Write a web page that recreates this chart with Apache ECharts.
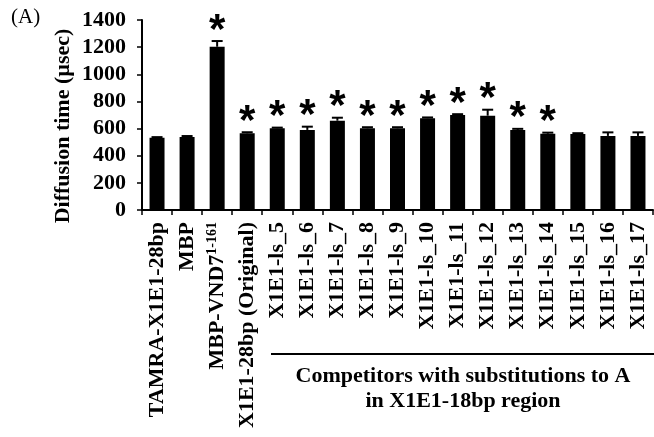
<!DOCTYPE html>
<html>
<head>
<meta charset="utf-8">
<script src="https://cdn.jsdelivr.net/npm/echarts@6/dist/echarts.min.js"></script>
<style>
  html, body { margin: 0; padding: 0; background: #fff; }
  #chart { width: 654px; height: 437px; }
</style>
</head>
<body>
<div id="chart"></div>
<script>
// Competitor constructs along the x axis
const categories = [
  'TAMRA-X1E1-28bp', 'MBP', 'MBP-VND7', 'X1E1-28bp (Original)',
  'X1E1-ls_5', 'X1E1-ls_6', 'X1E1-ls_7', 'X1E1-ls_8', 'X1E1-ls_9',
  'X1E1-ls_10', 'X1E1-ls_11', 'X1E1-ls_12', 'X1E1-ls_13', 'X1E1-ls_14',
  'X1E1-ls_15', 'X1E1-ls_16', 'X1E1-ls_17'
];
// superscript attached to a category label
const superscripts = { 'MBP-VND7': '1-161' };

// mean diffusion time (µsec) and its error
const diffusionTime = [533, 537, 1203, 565, 602, 590, 658, 602, 602, 676, 700, 695, 590, 562, 560, 546, 546];
const errorValues   = [4, 8, 42, 8, 5, 24, 22, 8, 8, 6, 6, 44, 8, 8, 6, 26, 26];
// significance marks (1 = asterisk)
const significant   = [0, 0, 1, 1, 1, 1, 1, 1, 1, 1, 1, 1, 1, 1, 0, 0, 0];

const yTicks = { min: 0, max: 1400, interval: 200 };

const serif = 'Liberation Serif';

const chart = echarts.init(document.getElementById('chart'), null, { renderer: 'canvas' });

const errData = diffusionTime.map((v, i) => [i, v, errorValues[i], significant[i]]);

chart.setOption({
  animation: false,
  grid: { left: 142, right: 1, top: 20, bottom: 227, containLabel: false },
  xAxis: {
    type: 'category',
    data: categories,
    boundaryGap: true,
    axisLine: { lineStyle: { color: '#000', width: 2 } },
    axisTick: { show: true, length: 5, inside: false, lineStyle: { color: '#000', width: 1.5 } },
    axisLabel: {
      interval: 0,
      rotate: 90,
      margin: 12,
      color: '#000',
      fontFamily: serif,
      fontWeight: 'bold',
      fontSize: 22,
      formatter: function (v) {
        const sup = superscripts[v];
        return sup ? '{main|' + v + '}{sup|' + sup + '}' : '{main|' + v + '}';
      },
      rich: {
        main: { fontFamily: serif, fontWeight: 'bold', fontSize: 22, color: '#000', lineHeight: 23 },
        sup: { fontFamily: serif, fontWeight: 'bold', fontSize: 14, color: '#000', verticalAlign: 'top', lineHeight: 23 }
      }
    }
  },
  yAxis: {
    type: 'value',
    min: yTicks.min,
    max: yTicks.max,
    interval: yTicks.interval,
    splitLine: { show: false },
    axisLine: { show: true, lineStyle: { color: '#000', width: 2 } },
    axisTick: { show: true, length: 5, inside: false, lineStyle: { color: '#000', width: 1.5 } },
    axisLabel: {
      margin: 16,
      color: '#000',
      fontFamily: serif,
      fontWeight: 'bold',
      fontSize: 22,
      formatter: function (v) { return String(v); }
    }
  },
  series: [
    {
      type: 'bar',
      data: diffusionTime,
      barWidth: 15,
      itemStyle: { color: '#000' },
      silent: true
    },
    {
      type: 'custom',
      data: errData,
      z: 5,
      silent: true,
      renderItem: function (params, api) {
        const i = api.value(0);
        const mean = api.value(1);
        const err = api.value(2);
        const star = api.value(3);
        const top = api.coord([i, mean + err]);
        const base = api.coord([i, mean]);
        const half = 5.5;
        const children = [
          { type: 'line', shape: { x1: top[0], y1: top[1], x2: base[0], y2: base[1] },
            style: { stroke: '#000', lineWidth: 2 } },
          { type: 'line', shape: { x1: top[0] - half, y1: top[1], x2: top[0] + half, y2: top[1] },
            style: { stroke: '#000', lineWidth: 2 } }
        ];
        if (star) {
          children.push({
            type: 'text',
            x: top[0],
            y: top[1] + 11,
            style: {
              text: '*',
              fill: '#000',
              font: 'bold 42px "Liberation Sans"',
              textAlign: 'center',
              textVerticalAlign: 'bottom'
            }
          });
        }
        return { type: 'group', children: children };
      }
    }
  ],
  graphic: [
    { type: 'text', left: 11, top: 7,
      style: { text: '(A)', fill: '#000', font: '21px "Liberation Serif"' } },
    { type: 'text', x: 63, y: 126, rotation: Math.PI / 2,
      style: { text: 'Diffusion time (µsec)', fill: '#000', font: 'bold 22px "Liberation Serif"',
               textAlign: 'center', textVerticalAlign: 'middle' } },
    { type: 'line', shape: { x1: 271, y1: 354, x2: 654, y2: 354 },
      style: { stroke: '#000', lineWidth: 2 } },
    { type: 'text', x: 463, y: 376,
      style: { text: 'Competitors with substitutions to A', fill: '#000',
               font: 'bold 22px "Liberation Serif"', textAlign: 'center', textVerticalAlign: 'middle' } },
    { type: 'text', x: 463, y: 401,
      style: { text: 'in X1E1-18bp region', fill: '#000',
               font: 'bold 22px "Liberation Serif"', textAlign: 'center', textVerticalAlign: 'middle' } }
  ]
});
</script>
</body>
</html>
